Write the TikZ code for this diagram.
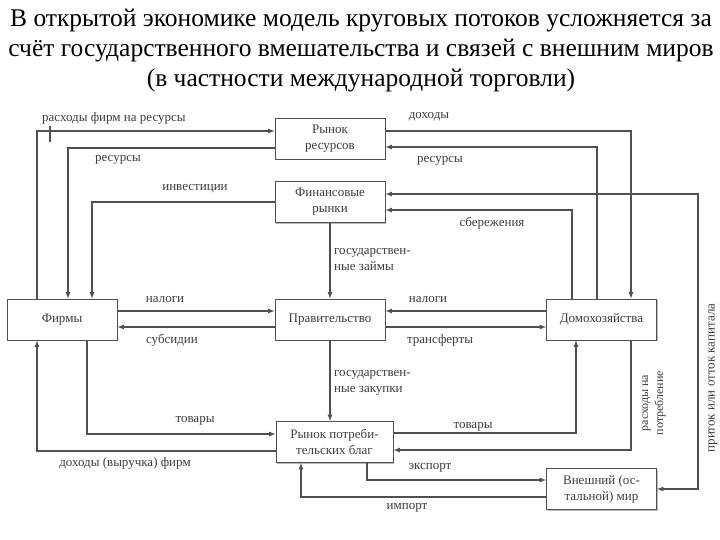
\documentclass[tikz,border=0pt]{standalone}
\usepackage{fontspec}
\setmainfont{Liberation Serif}
\usepackage{tikz}
\usetikzlibrary{arrows, shadows, positioning}

\definecolor{linegray}{RGB}{80,80,80}
\definecolor{textgray}{RGB}{60,60,60}

\tikzset{
  box/.style={draw=linegray, line width=0.9pt, fill=white, align=center,
    minimum width=110pt, minimum height=41pt, inner sep=2pt,
    font=\fontsize{13}{16}\selectfont, text=textgray,
    drop shadow={shadow xshift=1.2pt, shadow yshift=-1.2pt, fill=gray!55, opacity=1}},
  flow/.style={draw=linegray, line width=1.2pt, -latex},
  biflow/.style={draw=linegray, line width=1.2pt, latex-latex},
  lbl/.style={font=\fontsize{13}{16}\selectfont, text=textgray, inner sep=1pt},
}

\begin{document}
\begin{tikzpicture}[x=1pt, y=-1pt]
  \useasboundingbox (0,0) rectangle (720,540);
  % Title
  \node[align=center, font=\fontsize{25.5}{30}\selectfont, text=black] (title) at (361,51)
    {В открытой экономике модель круговых потоков усложняется за\\
     счёт государственного вмешательства и связей с внешним миров\\
     (в частности международной торговли)};

  % Sectors and markets
  \node[box] (rr) at (330,138.5) {Рынок\\ресурсов};
  \node[box] (fr) at (330,202) {Финансовые\\рынки};
  \node[box] (gov) at (330,319.5) {Правительство};
  \node[box, minimum width=117pt] (cm) at (334.5,442) {Рынок потреби-\\тельских благ};
  \node[box] (firms) at (62,319.5) {Фирмы};
  \node[box] (hh) at (601.5,319.5) {Домохозяйства};
  \node[box] (world) at (601.5,489) {Внешний (ос-\\тальной) мир};

  % Resource market flows
  \draw[flow] ([xshift=-25pt]firms.north) |- ([yshift=7.5pt]rr.west);
  \draw[linegray, line width=1.2pt] (50,126) -- (50,142);
  \draw[flow] ([yshift=-9.5pt]rr.west) -| ([xshift=6pt]firms.north);
  \draw[flow] ([yshift=7.5pt]rr.east) -| ([xshift=29.5pt]hh.north);
  \draw[flow] ([xshift=-4.5pt]hh.north) |- ([yshift=-8.5pt]rr.east);

  % Financial markets
  \draw[flow] (fr.west) -| ([xshift=30pt]firms.north);
  \draw[flow] ([xshift=-29.5pt]hh.north) |- ([yshift=-8pt]fr.east);
  \draw[flow] (fr.south) -- (gov.north);
  \coordinate (capturn) at (698,194);
  \draw[biflow] ([yshift=8pt]fr.east) -- (capturn) |- (world.east);

  % Government
  \draw[flow] ([yshift=8.5pt]firms.east) -- ([yshift=8.5pt]gov.west);
  \draw[flow] ([yshift=-7.5pt]gov.west) -- ([yshift=-7.5pt]firms.east);
  \draw[flow] ([yshift=8.5pt]hh.west) -- ([yshift=8.5pt]gov.east);
  \draw[flow] ([yshift=-7.5pt]gov.east) -- ([yshift=-7.5pt]hh.west);
  \draw[flow] (gov.south) -- (gov.south |- cm.north);

  % Consumer goods market
  \draw[flow] ([xshift=25pt]firms.south) |- ([yshift=8pt]cm.west);
  \draw[flow] ([yshift=-9pt]cm.west) -| ([xshift=-25pt]firms.south);
  \draw[flow] ([yshift=9pt]cm.east) -| ([xshift=-25.5pt]hh.south);
  \draw[flow] ([xshift=29.5pt]hh.south) |- ([yshift=-8pt]cm.east);

  % Foreign trade
  \draw[flow] ([xshift=32.5pt]cm.south) |- ([yshift=9pt]world.west);
  \draw[flow] ([yshift=-8pt]world.west) -| ([xshift=-33.5pt]cm.south);

  % Labels
  \node[lbl, anchor=west] (l1) at (41,118) {расходы фирм на ресурсы};
  \node[lbl] (l2) at (118,160) {ресурсы};
  \node[lbl] (l3) at (195,189) {инвестиции};
  \node[lbl] (l4) at (429,117) {доходы};
  \node[lbl] (l5) at (440,161) {ресурсы};
  \node[lbl] (l6) at (492,223) {сбережения};
  \node[lbl, align=left, anchor=west, font=\fontsize{13}{16}\selectfont] (l7) at (333,260) {государствен-\\ные займы};
  \node[lbl] (l8) at (165,299) {налоги};
  \node[lbl] (l9) at (172,340) {субсидии};
  \node[lbl] (l10) at (428,299) {налоги};
  \node[lbl] (l11) at (440,340) {трансферты};
  \node[lbl, align=left, anchor=west, font=\fontsize{13}{16}\selectfont] (l12) at (333,383) {государствен-\\ные закупки};
  \node[lbl] (l13) at (195,421) {товары};
  \node[lbl] (l14) at (125,463) {доходы (выручка) фирм};
  \node[lbl] (l15) at (473,427) {товары};
  \node[lbl, rotate=90, align=center, font=\fontsize{12}{15}\selectfont] (l16) at (654,403) {расходы на\\потребление};
  \node[lbl] (l17) at (430,468) {экспорт};
  \node[lbl] (l18) at (407,508) {импорт};
  \node[lbl, rotate=90] (l19) at (713,378) {приток или отток капитала};
\end{tikzpicture}
\end{document}
